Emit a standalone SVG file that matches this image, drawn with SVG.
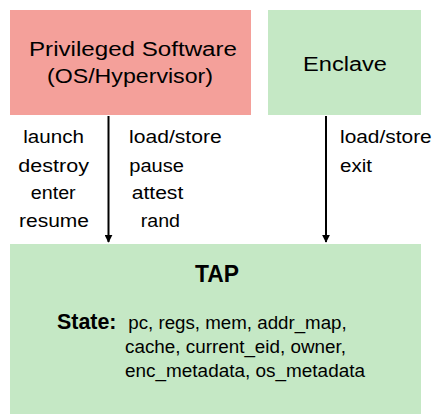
<svg xmlns="http://www.w3.org/2000/svg" width="435" height="414" viewBox="0 0 435 414">
  <style>
    text { font-family: "Liberation Sans", Arial, sans-serif; fill: #000; }
    .title { font-size: 20px; }
    .lbl { font-size: 17.5px; }
    .st { font-size: 17.5px; }
    .conn { stroke: #000; stroke-width: 2; fill: none; }
  </style>
  <defs>
    <marker id="arrow" viewBox="0 0 10 10" refX="9" refY="5" markerWidth="4" markerHeight="4" orient="auto">
      <path d="M0,0 L10,5 L0,10 z" fill="#000"/>
    </marker>
  </defs>

  <rect width="435" height="414" fill="#fff"/>

  <g id="privileged-software">
    <rect x="10" y="10" width="241" height="105" fill="#F4A09A"/>
    <text class="title" x="29" y="56" textLength="208" lengthAdjust="spacingAndGlyphs">Privileged Software</text>
    <text class="title" x="47" y="83" textLength="166" lengthAdjust="spacingAndGlyphs">(OS/Hypervisor)</text>
  </g>

  <g id="enclave">
    <rect x="268" y="10" width="153" height="105" fill="#C5E8C5"/>
    <text class="title" x="303" y="71" textLength="84" lengthAdjust="spacingAndGlyphs">Enclave</text>
  </g>

  <g id="tap">
    <rect x="10" y="244" width="411" height="170" fill="#C5E8C5"/>
    <text x="195" y="282" font-size="23" font-weight="bold" textLength="44" lengthAdjust="spacingAndGlyphs">TAP</text>
    <text x="57" y="328.5" font-size="22" font-weight="bold" textLength="59.5" lengthAdjust="spacingAndGlyphs">State:</text>
    <text class="st" x="128.3" y="328.5" textLength="218.4" lengthAdjust="spacingAndGlyphs">pc, regs, mem, addr_map,</text>
    <text class="st" x="125" y="353" textLength="221" lengthAdjust="spacingAndGlyphs">cache, current_eid, owner,</text>
    <text class="st" x="125" y="376.5" textLength="240" lengthAdjust="spacingAndGlyphs">enc_metadata, os_metadata</text>
  </g>

  <g id="connectors">
    <line class="conn" x1="108.5" y1="116" x2="108.5" y2="242" marker-end="url(#arrow)"/>
    <line class="conn" x1="326" y1="116" x2="326" y2="242" marker-end="url(#arrow)"/>
    <g class="lbl">
      <text x="23.3" y="143.3" textLength="60.7" lengthAdjust="spacingAndGlyphs">launch</text>
      <text x="18.3" y="171.5" textLength="70.7" lengthAdjust="spacingAndGlyphs">destroy</text>
      <text x="30.7" y="199" textLength="45" lengthAdjust="spacingAndGlyphs">enter</text>
      <text x="19" y="226.7" textLength="70" lengthAdjust="spacingAndGlyphs">resume</text>
      <text x="129" y="143.3" textLength="92.7" lengthAdjust="spacingAndGlyphs">load/store</text>
      <text x="129.3" y="171.5" textLength="54.7" lengthAdjust="spacingAndGlyphs">pause</text>
      <text x="131.7" y="199" textLength="51.6" lengthAdjust="spacingAndGlyphs">attest</text>
      <text x="140.7" y="226.7" textLength="39.3" lengthAdjust="spacingAndGlyphs">rand</text>
      <text x="340" y="143.3" textLength="91.7" lengthAdjust="spacingAndGlyphs">load/store</text>
      <text x="340" y="171.5" textLength="32" lengthAdjust="spacingAndGlyphs">exit</text>
    </g>
  </g>
</svg>
